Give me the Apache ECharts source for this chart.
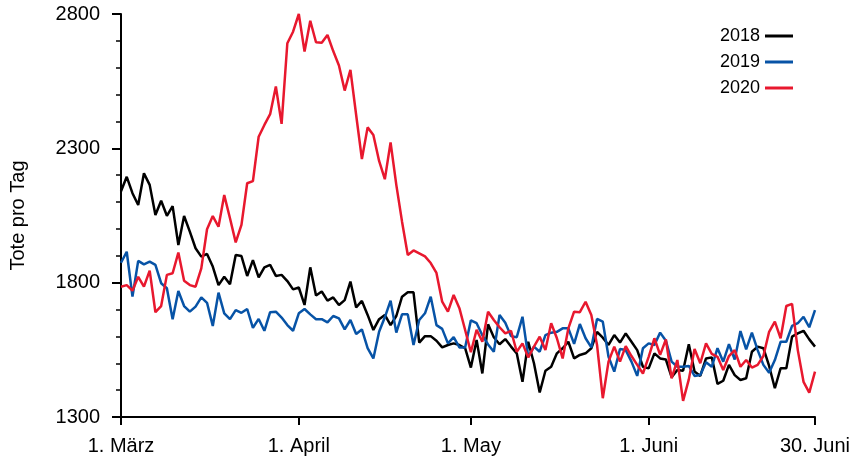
<!DOCTYPE html>
<html><head><meta charset="utf-8">
<script src="https://cdn.jsdelivr.net/npm/echarts@6/dist/echarts.min.js"></script>
<style>html,body{margin:0;padding:0;background:#fff}#c{width:860px;height:461px}</style>
</head><body><div id="c"></div>
<script>
const seriesNames = ['2018', '2019', '2020'];
const tickIndices = [0, 31, 61, 92, 121];
const tickLabels = ['1. März', '1. April', '1. May', '1. Juni', '30. Juni'];
const yTickValues = [1300, 1800, 2300, 2800];

const v2018 = [2140,2194,2133,2089,2207,2164,2052,2105,2049,2085,1940,2048,1990,1928,1897,1907,1860,1791,1822,1794,
1903,1899,1825,1884,1820,1857,1866,1825,1829,1806,1775,1782,1717,1857,1752,1767,1733,1745,1717,1735,
1804,1708,1732,1680,1624,1664,1680,1642,1676,1748,1764,1764,1577,1601,1601,1584,1559,1568,1574,1568,
1556,1484,1587,1462,1645,1597,1571,1590,1562,1537,1431,1580,1500,1391,1472,1487,1537,1556,1580,1518,
1531,1537,1556,1617,1595,1568,1605,1577,1611,1580,1549,1487,1481,1537,1518,1514,1448,1475,1472,1571,
1469,1453,1518,1522,1423,1435,1494,1456,1438,1444,1543,1562,1556,1490,1407,1481,1481,1599,1611,1621,
1589,1562];
const v2019 = [1874,1915,1748,1881,1868,1878,1866,1798,1779,1664,1769,1713,1692,1711,1745,1725,1639,1763,1686,1664,
1698,1688,1702,1632,1665,1621,1690,1692,1670,1642,1621,1686,1702,1682,1664,1664,1652,1676,1667,1626,
1661,1609,1626,1556,1518,1617,1671,1733,1614,1682,1682,1568,1661,1686,1748,1642,1628,1574,1597,1559,
1559,1660,1649,1604,1570,1543,1680,1651,1601,1597,1673,1524,1562,1543,1605,1614,1617,1630,1630,1572,
1646,1593,1559,1665,1655,1524,1469,1553,1549,1506,1453,1556,1574,1568,1614,1584,1506,1487,1487,1490,
1453,1456,1504,1487,1556,1506,1571,1514,1620,1552,1614,1549,1494,1465,1512,1580,1580,1639,1649,1673,
1634,1698];
const v2020 = [1785,1791,1770,1822,1785,1845,1690,1713,1829,1835,1912,1807,1791,1785,1853,1999,2048,2008,2126,2040,
1950,2015,2170,2178,2343,2387,2427,2530,2391,2691,2734,2800,2660,2775,2695,2693,2722,2662,2608,2515,
2592,2424,2260,2378,2350,2253,2185,2322,2164,2027,1903,1920,1909,1898,1873,1836,1729,1692,1754,1705,
1624,1541,1625,1580,1692,1661,1634,1611,1621,1543,1574,1522,1562,1599,1549,1649,1593,1518,1630,1692,
1690,1729,1680,1568,1370,1506,1562,1506,1564,1527,1494,1462,1524,1593,1531,1589,1444,1512,1360,1440,
1553,1500,1574,1535,1524,1475,1527,1549,1487,1512,1484,1494,1527,1617,1655,1593,1713,1721,1549,1431,
1391,1469];

const categories = v2018.map((_, i) => 'd' + i);
const font = "'Liberation Sans', Arial, Helvetica, sans-serif";
const colors = ['#000000', '#0753a6', '#e8182e'];
const values = [v2018, v2019, v2020];

const chart = echarts.init(document.getElementById('c'), null, {renderer: 'canvas'});
chart.setOption({
  animation: false,
  color: colors,
  grid: {left: 119, right: 45, top: 14, bottom: 44, containLabel: false},
  legend: {
    orient: 'vertical', right: 62, top: 22, align: 'right',
    itemWidth: 28, itemHeight: 3, itemGap: 8, icon: 'rect',
    textStyle: {fontFamily: font, fontSize: 18, color: '#000'},
    data: seriesNames
  },
  xAxis: {
    type: 'category', data: categories, boundaryGap: false,
    axisLine: {lineStyle: {color: '#000', width: 2}},
    axisTick: {show: true, length: 8, lineStyle: {width: 2, color: '#000'},
      interval: (i) => tickIndices.includes(i)},
    axisLabel: {interval: (i) => tickIndices.includes(i), margin: 19,
      fontFamily: font, fontSize: 20, color: '#000',
      formatter: (v, i) => tickLabels[tickIndices.indexOf(i)]},
    splitLine: {show: false}
  },
  yAxis: {
    type: 'value', min: 1300, max: 2800, interval: 500,
    name: 'Tote pro Tag', nameLocation: 'middle', nameGap: 93,
    nameTextStyle: {fontFamily: font, fontSize: 20, color: '#000'},
    axisLine: {show: true, lineStyle: {color: '#000', width: 2}},
    axisTick: {show: true, length: 9, lineStyle: {width: 2, color: '#000'}},
    minorTick: {show: true, splitNumber: 5, length: 5, lineStyle: {width: 1.5, color: '#000'}},
    axisLabel: {margin: 21, fontFamily: font, fontSize: 20, color: '#000',
      formatter: (v) => yTickValues.includes(v) ? String(v) : ''},
    splitLine: {show: false}
  },
  series: seriesNames.map((n, k) => ({
    name: n, type: 'line', data: values[k], symbol: 'none', showSymbol: false,
    lineStyle: {width: 2.5, color: colors[k]}, z: 3 + k
  }))
});
</script></body></html>
